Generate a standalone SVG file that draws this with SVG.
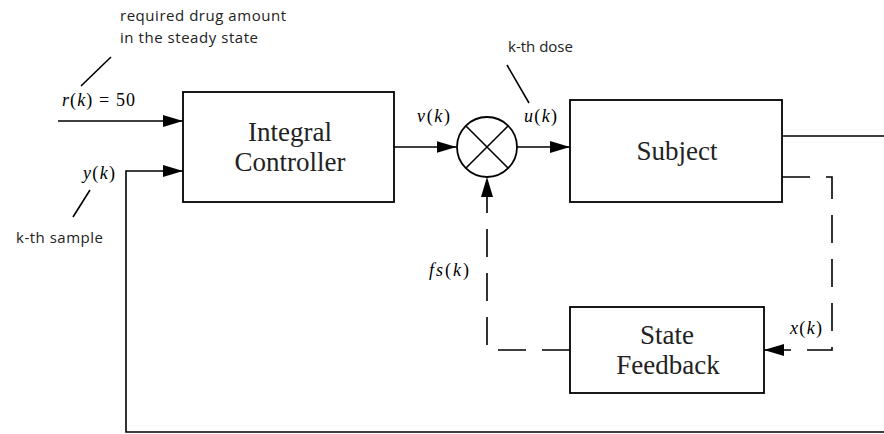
<svg xmlns="http://www.w3.org/2000/svg" width="884" height="434" viewBox="0 0 884 434">
<style>
.box{fill:#fff;stroke:#000;stroke-width:1.8}
.ln{fill:none;stroke:#000;stroke-width:1.6}
.d{stroke-dasharray:28 16}
.lbl{font-family:"Liberation Serif",serif;font-size:27px;fill:#222;text-anchor:middle}
.m{font-family:"Liberation Serif",serif;font-size:18px;fill:#000}
.i{font-style:italic}
.note{font-family:"Open Sans",sans-serif;font-size:15px;fill:#222}
</style>
<defs>
<marker id="ah" markerUnits="userSpaceOnUse" markerWidth="20" markerHeight="12" refX="20" refY="6" orient="auto"><path d="M0,0 L20,6 L0,12 z" fill="#000"/></marker>
</defs>
<g id="connectors">
<path class="ln" d="M58,121 H183" marker-end="url(#ah)"/>
<path class="ln" d="M884,432 H126 V171 H183" marker-end="url(#ah)"/>
<path class="ln" d="M394,147 H456.5" marker-end="url(#ah)"/>
<path class="ln" d="M517,147 H570" marker-end="url(#ah)"/>
<path class="ln" d="M782,136 H884"/>
<path class="ln d" d="M782,177 H832 V350 H764" marker-end="url(#ah)"/>
<path class="ln d" d="M570,350 H487 V177" marker-end="url(#ah)"/>
<path class="ln" d="M111,57 L81,86 M507,65 L529,103 M90,190 L73,217" stroke-width="1.2"/>
</g>
<g id="integral-controller">
<rect class="box" x="183" y="92" width="211" height="110"/>
<text class="lbl" x="290" y="141">Integral</text>
<text class="lbl" x="290" y="171">Controller</text>
</g>
<g id="sum">
<circle class="box" cx="487" cy="147" r="30"/>
<path class="ln" d="M466,126 L508,168 M508,126 L466,168"/>
</g>
<g id="subject">
<rect class="box" x="570" y="100" width="212" height="102"/>
<text class="lbl" x="677" y="160">Subject</text>
</g>
<g id="state-feedback">
<rect class="box" x="570" y="307" width="194" height="86"/>
<text class="lbl" x="667" y="344">State</text>
<text class="lbl" x="668" y="374">Feedback</text>
</g>
<g id="labels">
<text class="note" x="120" y="21" textLength="166" lengthAdjust="spacing">required drug amount</text>
<text class="note" x="120" y="43" textLength="138" lengthAdjust="spacing">in the steady state</text>
<text class="note" x="508" y="52">k-th dose</text>
<text class="note" x="16" y="243" textLength="87" lengthAdjust="spacing">k-th sample</text>
<text class="m" x="62" y="106" textLength="73" lengthAdjust="spacing"><tspan class="i">r</tspan>(<tspan class="i">k</tspan>) = 50</text>
<text class="m" x="83" y="179" textLength="32" lengthAdjust="spacing"><tspan class="i">y</tspan>(<tspan class="i">k</tspan>)</text>
<text class="m" x="417" y="122" textLength="33" lengthAdjust="spacing"><tspan class="i">v</tspan>(<tspan class="i">k</tspan>)</text>
<text class="m" x="524" y="122" textLength="33" lengthAdjust="spacing"><tspan class="i">u</tspan>(<tspan class="i">k</tspan>)</text>
<text class="m" x="429" y="276" textLength="40" lengthAdjust="spacing"><tspan class="i">fs</tspan>(<tspan class="i">k</tspan>)</text>
<text class="m" x="790" y="334" textLength="32" lengthAdjust="spacing"><tspan class="i">x</tspan>(<tspan class="i">k</tspan>)</text>
</g>
</svg>
